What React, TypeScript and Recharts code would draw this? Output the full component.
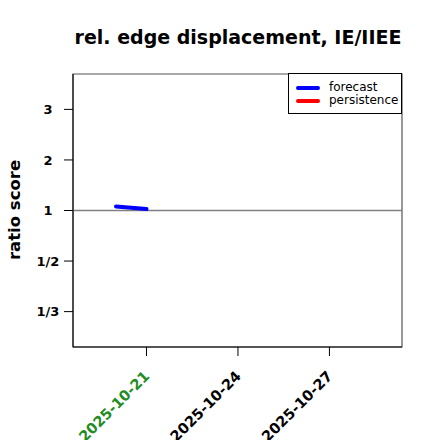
import React from "react";
import { LineChart, Line, XAxis, YAxis, ReferenceLine, ReferenceArea } from "recharts";

const title = "rel. edge displacement, IE/IIEE";
const yLabel = "ratio score";
const dates = ["2025-10-20", "2025-10-21"];
const forecastRatio = [1.08, 1.03];
const persistenceRatio: (number | null)[] = [null, null];
const xTickDates = ["2025-10-21", "2025-10-24", "2025-10-27"];
const xTickColors = ["#228B22", "#000000", "#000000"];
const yTickRatios = [3, 2, 1, 1 / 2, 1 / 3];
const yTickLabels = ["3", "2", "1", "1/2", "1/3"];
const seriesNames = ["forecast", "persistence"];
const seriesColors = ["#0000ff", "#ff0000"];

const DAY = 86400000;
const dayOf = (s: string) => {
  const [y, m, d] = s.split("-").map(Number);
  return Date.UTC(y, m - 1, d) / DAY;
};
const score = (r: number | null) => (r == null ? null : r >= 1 ? r - 1 : 1 - 1 / r);

const rows = dates.map((d, i) => ({
  t: dayOf(d),
  forecast: score(forecastRatio[i]),
  persistence: score(persistenceRatio[i]),
}));
const xTicks = xTickDates.map(dayOf);
const yTicks = yTickRatios.map((r) => score(r) as number);
const xDomain = [dayOf("2025-10-21") - 2.41, dayOf("2025-10-21") + 8.38];
const yDomain = [-2.7, 2.7];

const FONT = "DejaVu Sans";

const XTick = (props: any) => {
  const { x, y, payload } = props;
  const idx = xTicks.indexOf(payload.value);
  const ax = x + 4;
  const ay = y + 19;
  return (
    <text
      x={ax}
      y={ay}
      textAnchor="end"
      transform={`rotate(-45, ${ax}, ${ay})`}
      fontSize={14.5}
      fontWeight="bold"
      fontFamily={FONT}
      fill={xTickColors[idx] || "#000"}
    >
      {xTickDates[idx]}
    </text>
  );
};

const YTick = (props: any) => {
  const { x, y, payload } = props;
  const idx = yTicks.indexOf(payload.value);
  return (
    <text
      x={x - 10}
      y={y}
      dy="0.355em"
      textAnchor="middle"
      fontSize={13}
      fontWeight="bold"
      fontFamily={FONT}
      fill="#000"
    >
      {yTickLabels[idx]}
    </text>
  );
};

const LegendBox = () => (
  <div
    style={{
      position: "absolute",
      left: 288,
      top: 73,
      border: "1px solid #000",
      background: "#fff",
      width: 114,
      height: 41,
      boxSizing: "border-box",
      padding: "7px 0 0 7px",
      fontFamily: FONT,
      fontSize: 12,
      lineHeight: "13px",
    }}
  >
    {seriesNames.map((n, i) => (
      <div key={n} style={{ display: "flex", alignItems: "center" }}>
        <div style={{ width: 24, height: 4, borderRadius: 2, background: seriesColors[i], marginRight: 9 }} />
        <span>{n}</span>
      </div>
    ))}
  </div>
);

export default function App() {
  return (
    <div style={{ position: "absolute", left: 0, top: 0, width: 440, height: 440, background: "#fff", fontFamily: FONT, overflow: "hidden" }}>
      <div
        style={{
          position: "absolute",
          left: 0,
          width: 476,
          top: 26,
          textAlign: "center",
          fontSize: 19,
          fontWeight: "bold",
        }}
      >
        {title}
      </div>
      <div
        style={{
          position: "absolute",
          left: 14,
          top: 210,
          transform: "translate(-50%, -50%) rotate(-90deg)",
          fontSize: 16.5,
          fontWeight: "bold",
          whiteSpace: "nowrap",
        }}
      >
        {yLabel}
      </div>
      <LineChart width={440} height={440} data={rows} margin={{ top: 74, right: 38, bottom: 33, left: 13 }}>
        <ReferenceArea
          x1={xDomain[0]}
          x2={xDomain[1]}
          y1={yDomain[0]}
          y2={yDomain[1]}
          fill="none"
          stroke="#555"
          strokeWidth={1.2}
          ifOverflow="visible"
        />
        <XAxis
          type="number"
          dataKey="t"
          domain={xDomain}
          ticks={xTicks}
          height={60}
          tickSize={9}
          tickMargin={2}
          tick={<XTick />}
          stroke="#000"
          allowDataOverflow
        />
        <YAxis
          type="number"
          domain={yDomain}
          ticks={yTicks}
          width={60}
          tickSize={9}
          tickMargin={6}
          tick={<YTick />}
          stroke="#000"
          allowDataOverflow
        />
        <ReferenceLine y={0} stroke="#808080" strokeWidth={1.5} />
        <Line
          dataKey="forecast"
          stroke={seriesColors[0]}
          strokeWidth={4}
          dot={false}
          isAnimationActive={false}
          strokeLinecap="round"
        />
        <Line
          dataKey="persistence"
          stroke={seriesColors[1]}
          strokeWidth={4}
          dot={false}
          isAnimationActive={false}
        />
      </LineChart>
      <LegendBox />
    </div>
  );
}
